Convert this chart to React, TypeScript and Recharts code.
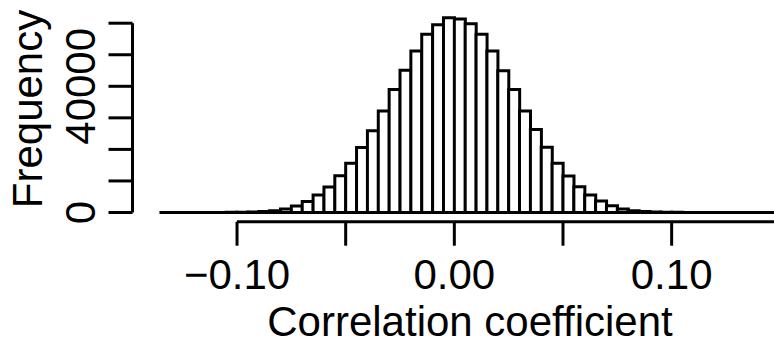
import React from 'react';
import { ComposedChart, Bar, XAxis, YAxis, ReferenceLine, Label } from 'recharts';

// Histogram bins (centers) and frequencies
const binCenters = [
  -0.1325, -0.1275, -0.1225, -0.1175, -0.1125, -0.1075, -0.1025, -0.0975, -0.0925, -0.0875,
  -0.0825, -0.0775, -0.0725, -0.0675, -0.0625, -0.0575, -0.0525, -0.0475, -0.0425, -0.0375,
  -0.0325, -0.0275, -0.0225, -0.0175, -0.0125, -0.0075, -0.0025, 0.0025, 0.0075, 0.0125,
  0.0175, 0.0225, 0.0275, 0.0325, 0.0375, 0.0425, 0.0475, 0.0525, 0.0575, 0.0625,
  0.0675, 0.0725, 0.0775, 0.0825, 0.0875, 0.0925, 0.0975, 0.1025, 0.1075, 0.1125,
  0.1175, 0.1225, 0.1275, 0.1325, 0.1375, 0.1425, 0.1475, 0.1525,
];
const frequencies = [
  1, 2, 4, 8, 15, 30, 55, 100, 170, 300,
  560, 1080, 2080, 3450, 5550, 8050, 11650, 15600, 20600, 25900,
  32200, 39000, 45100, 51200, 56500, 59500, 61700, 61300, 59800, 56500,
  51200, 44900, 39000, 32200, 26300, 20700, 15600, 11600, 8150, 5550,
  3650, 2150, 1100, 570, 290, 160, 90, 45, 25, 12,
  6, 3, 2, 1, 1, 1, 1, 1,
];

const xTicks = [-0.1, -0.05, 0, 0.05, 0.1];
const xTickLabels = ['\u22120.10', '', '0.00', '', '0.10'];
const yTicks = [0, 10000, 20000, 30000, 40000, 50000, 60000];
const yTickLabels = ['0', '', '', '', '40000', '', ''];

const xDomain: [number, number] = [-0.1481, 0.1471];
const yDomain: [number, number] = [-2916, 64342];

const data = binCenters.map((c, i) => ({ x: c, count: frequencies[i] }));

const FONT = '"Liberation Sans", Arial, Helvetica, sans-serif';
const FS = 42;

const YTick = (props: any) => {
  const { x, y, payload } = props;
  const idx = yTicks.indexOf(payload.value);
  const label = idx >= 0 ? yTickLabels[idx] : '';
  if (!label) return null;
  return (
    <text
      x={x}
      y={y}
      transform={`rotate(-90, ${x}, ${y})`}
      textAnchor="middle"
      fontFamily={FONT}
      fontSize={FS}
      fill="#000"
    >
      {label}
    </text>
  );
};

const XTick = (props: any) => {
  const { x, y, payload } = props;
  const idx = xTicks.indexOf(payload.value);
  const label = idx >= 0 ? xTickLabels[idx] : '';
  if (!label) return null;
  return (
    <text x={x} y={y} dy="0.71em" textAnchor="middle" fontFamily={FONT} fontSize={FS} fill="#000">
      {label}
    </text>
  );
};

export default function App() {
  return (
    <div style={{ position: 'absolute', left: 0, top: 0, background: '#fff' }}>
      <ComposedChart
        width={774}
        height={345}
        data={data}
        margin={{ top: 9.5, right: 0, bottom: 0, left: 0 }}
        barCategoryGap={0}
        barGap={0}
      >
        <XAxis
          dataKey="x"
          type="number"
          domain={xDomain}
          allowDataOverflow
          ticks={xTicks}
          interval={0}
          height={123.3}
          axisLine={false}
          tickLine={{ stroke: '#000', strokeWidth: 3 }}
          stroke="#000"
          tickSize={24}
          tickMargin={13.8}
          tick={<XTick />}
        >
          <Label
            content={() => (
              <text x={470} y={336} textAnchor="middle" fontFamily={FONT} fontSize={FS} fill="#000">
                Correlation coefficient
              </text>
            )}
          />
        </XAxis>
        <YAxis
          type="number"
          domain={yDomain}
          allowDataOverflow
          ticks={yTicks}
          interval={0}
          width={132.5}
          axisLine={false}
          tickLine={{ stroke: '#000', strokeWidth: 3 }}
          stroke="#000"
          tickSize={24}
          tickMargin={13.5}
          tick={<YTick />}
        >
          <Label
            content={() => (
              <text
                x={42}
                y={109}
                transform="rotate(-90, 42, 109)"
                textAnchor="middle"
                fontFamily={FONT}
                fontSize={FS}
                fill="#000"
              >
                Frequency
              </text>
            )}
          />
        </YAxis>
        <Bar
          dataKey="count"
          fill="#fff"
          stroke="#000"
          strokeWidth={3}
          isAnimationActive={false}
        />
        <ReferenceLine
          segment={[
            { x: xDomain[0], y: yTicks[0] },
            { x: xDomain[0], y: yTicks[yTicks.length - 1] },
          ]}
          stroke="#000"
          strokeWidth={3}
          ifOverflow="visible"
        />
        <ReferenceLine
          segment={[
            { x: xTicks[0], y: yDomain[0] },
            { x: xDomain[1], y: yDomain[0] },
          ]}
          stroke="#000"
          strokeWidth={3}
          ifOverflow="visible"
        />
      </ComposedChart>
    </div>
  );
}
